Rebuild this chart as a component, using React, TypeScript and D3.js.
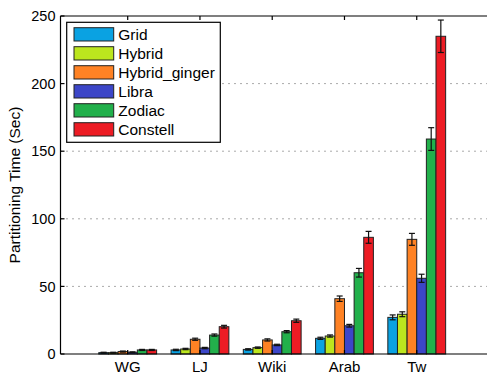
import React, { useEffect, useRef } from "react";
import * as d3 from "d3";

// datasets along the x axis
const groups = ["WG", "LJ", "Wiki", "Arab", "Tw"];

// partitioning time (sec) per method
const gridVals = [1.0, 3.0, 3.4, 11.6, 27.1];
const hybridVals = [1.0, 3.7, 4.7, 13.3, 29.4];
const gingerVals = [1.8, 10.9, 10.4, 40.9, 84.8];
const libraVals = [1.3, 4.4, 6.7, 20.9, 56.0];
const zodiacVals = [3.0, 14.0, 16.5, 60.1, 159.0];
const constellVals = [3.0, 20.2, 24.6, 86.3, 235.0];

// error bar half-lengths
const gridErr = [0.3, 0.5, 0.5, 0.8, 1.8];
const hybridErr = [0.3, 0.5, 0.5, 0.8, 1.8];
const gingerErr = [0.4, 0.8, 0.8, 2.0, 4.4];
const libraErr = [0.3, 0.5, 0.5, 1.0, 3.0];
const zodiacErr = [0.4, 0.8, 0.8, 3.2, 8.4];
const constellErr = [0.4, 1.0, 1.2, 4.4, 12.0];

const methods = ["Grid", "Hybrid", "Hybrid_ginger", "Libra", "Zodiac", "Constell"];
const colors = ["#0aa2e2", "#bce61e", "#ff8224", "#3c46c8", "#22b04b", "#ed1c24"];
const yTicks = [0, 50, 100, 150, 200, 250];

const App = () => {
  const ref = useRef<SVGSVGElement>(null);

  useEffect(() => {
    const width = 487;
    const height = 375;
    const left = 60.5, right = 489, top = 16, bottom = 354;

    const svg = d3.select(ref.current)
      .attr("width", width)
      .attr("height", height)
      .style("font-family", "'Liberation Sans', Arial, sans-serif");
    svg.selectAll("*").remove();

    const vals = [gridVals, hybridVals, gingerVals, libraVals, zodiacVals, constellVals];
    const errs = [gridErr, hybridErr, gingerErr, libraErr, zodiacErr, constellErr];

    const x = d3.scaleLinear().domain([0.07, 6]).range([left, right]);
    const y = d3.scaleLinear().domain([0, 250]).range([bottom, top]);

    // dotted grid
    svg.append("g").selectAll("line")
      .data(yTicks.filter(t => t > 0 && t < 250))
      .join("line")
      .attr("x1", left).attr("x2", right)
      .attr("y1", d => y(d)).attr("y2", d => y(d))
      .attr("stroke", "#555")
      .attr("stroke-width", 1)
      .attr("stroke-dasharray", "1,5");

    // bars
    groups.forEach((g, gi) => {
      const center = gi + 1;
      const band = d3.scaleBand<number>()
        .domain(d3.range(methods.length))
        .range([x(center - 0.4), x(center + 0.4)])
        .paddingInner(0);
      const bg = svg.append("g");
      methods.forEach((m, mi) => {
        const v = vals[mi][gi];
        bg.append("rect")
          .attr("x", band(mi)!)
          .attr("y", y(v))
          .attr("width", band.bandwidth())
          .attr("height", y(0) - y(v))
          .attr("fill", colors[mi])
          .attr("stroke", "#222")
          .attr("stroke-width", 1);
      });
      methods.forEach((m, mi) => {
        const v = vals[mi][gi];
        const e = errs[mi][gi];
        const cx = band(mi)! + band.bandwidth() / 2;
        const eb = bg.append("g").attr("stroke", "#111").attr("stroke-width", 1.2);
        eb.append("line").attr("x1", cx).attr("x2", cx).attr("y1", y(v + e)).attr("y2", y(v - e));
        eb.append("line").attr("x1", cx - 3).attr("x2", cx + 3).attr("y1", y(v + e)).attr("y2", y(v + e));
        eb.append("line").attr("x1", cx - 3).attr("x2", cx + 3).attr("y1", y(v - e)).attr("y2", y(v - e));
      });
    });

    // axes box
    const ax = svg.append("g").attr("stroke", "#000").attr("stroke-width", 1.2);
    ax.append("line").attr("x1", left).attr("x2", width).attr("y1", bottom).attr("y2", bottom);
    ax.append("line").attr("x1", left).attr("x2", width).attr("y1", top).attr("y2", top);
    ax.append("line").attr("x1", left).attr("x2", left).attr("y1", top).attr("y2", bottom);

    // y ticks + labels
    yTicks.forEach(t => {
      ax.append("line").attr("x1", left).attr("x2", left + 4).attr("y1", y(t)).attr("y2", y(t));
      svg.append("text")
        .attr("x", left - 5)
        .attr("y", y(t))
        .attr("dy", "0.36em")
        .attr("text-anchor", "end")
        .attr("font-size", 14.5)
        .text(t);
    });

    // x ticks + labels
    groups.forEach((g, gi) => {
      const px = x(gi + 1);
      ax.append("line").attr("x1", px).attr("x2", px).attr("y1", bottom).attr("y2", bottom - 4);
      ax.append("line").attr("x1", px).attr("x2", px).attr("y1", top).attr("y2", top + 4);
      svg.append("text")
        .attr("x", px)
        .attr("y", 372)
        .attr("text-anchor", "middle")
        .attr("font-size", 15)
        .text(g);
    });

    // y label
    svg.append("text")
      .attr("transform", `translate(20,${(top + bottom) / 2}) rotate(-90)`)
      .attr("text-anchor", "middle")
      .attr("font-size", 15.5)
      .text("Partitioning Time (Sec)");

    // legend
    const lg = svg.append("g");
    lg.append("rect")
      .attr("x", 66.7).attr("y", 22.3)
      .attr("width", 153.6).attr("height", 120)
      .attr("fill", "#fff")
      .attr("stroke", "#000")
      .attr("stroke-width", 1.2);
    methods.forEach((m, i) => {
      const cy = 34.3 + i * 19;
      lg.append("rect")
        .attr("x", 74).attr("y", cy - 6.6)
        .attr("width", 39.7).attr("height", 13.3)
        .attr("fill", colors[i])
        .attr("stroke", "#222")
        .attr("stroke-width", 1);
      lg.append("text")
        .attr("x", 118.3).attr("y", cy)
        .attr("dy", "0.36em")
        .attr("font-size", 15.5)
        .text(m);
    });
  }, []);

  return (
    <svg ref={ref} style={{ position: "absolute", left: 0, top: 0, background: "#fff" }}></svg>
  );
};

export default App;
